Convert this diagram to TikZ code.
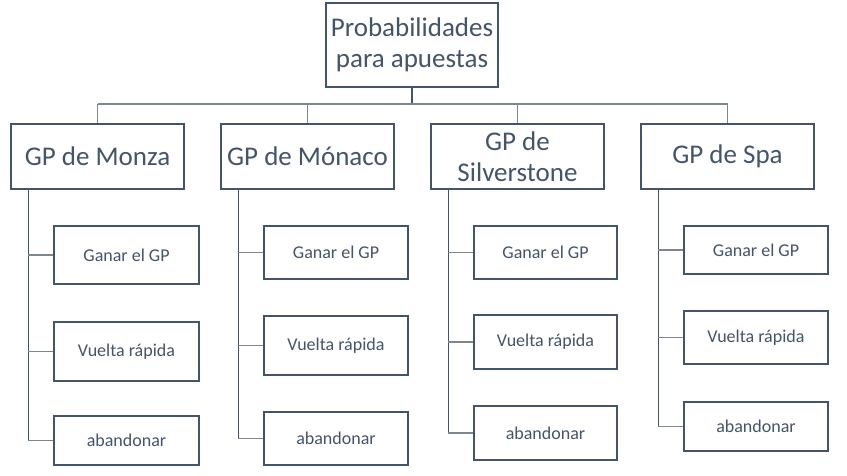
\documentclass[tikz,border=0pt]{standalone}
\usepackage{fontspec}
\setmainfont{Carlito}
\definecolor{ink}{HTML}{44546A}
\definecolor{branch}{HTML}{7D8794}
\tikzset{
  x=1pt, y=-1pt,
  box/.style={draw=ink, line width=1.3pt, fill=white, text=ink, inner sep=0pt, align=center},
  bigbox/.style={box, minimum width=173pt, minimum height=65pt, font=\fontsize{27}{31}\selectfont},
  rootbox/.style={box, minimum width=172pt, minimum height=84pt, font=\fontsize{27}{31}\selectfont},
  leafbox/.style={box, font=\fontsize{18}{22}\selectfont},
  vline/.style={draw=ink, line width=1.3pt},
  hline/.style={draw=branch, line width=1.3pt},
}
\begin{document}
\begin{tikzpicture}
\useasboundingbox[fill=white] (0,0) rectangle (847,476);

% root
\node[rootbox] (root) at (412,45) {Probabilidades\\para apuestas};

% level 1
\node[bigbox] (mz) at (97.5,156.5) {GP de Monza};
\node[bigbox] (mo) at (307.5,156.5) {GP de Mónaco};
\node[bigbox] (si) at (517.5,156.5) {GP de\\Silverstone};
\node[bigbox] (sp) at (727.5,156.5) {GP de Spa};

% leaves Monza
\node[leafbox, minimum width=145pt, minimum height=58pt] (mz1) at (126.5,255) {Ganar el GP};
\node[leafbox, minimum width=145pt, minimum height=59pt] (mz2) at (126.5,351.5) {Vuelta rápida};
\node[leafbox, minimum width=145pt, minimum height=49pt] (mz3) at (126.5,440.5) {abandonar};
% leaves Monaco
\node[leafbox, minimum width=144pt, minimum height=53pt] (mo1) at (336,252.5) {Ganar el GP};
\node[leafbox, minimum width=144pt, minimum height=59pt] (mo2) at (336,345.5) {Vuelta rápida};
\node[leafbox, minimum width=144pt, minimum height=53pt] (mo3) at (336,438.5) {abandonar};
% leaves Silverstone
\node[leafbox, minimum width=143pt, minimum height=53pt] (si1) at (545.5,252.5) {Ganar el GP};
\node[leafbox, minimum width=143pt, minimum height=54pt] (si2) at (545.5,342) {Vuelta rápida};
\node[leafbox, minimum width=143pt, minimum height=54pt] (si3) at (545.5,433) {abandonar};
% leaves Spa
\node[leafbox, minimum width=144pt, minimum height=48pt] (sp1) at (756,250) {Ganar el GP};
\node[leafbox, minimum width=144pt, minimum height=53pt] (sp2) at (756,337.5) {Vuelta rápida};
\node[leafbox, minimum width=144pt, minimum height=49pt] (sp3) at (756,426.5) {abandonar};

% bus
\coordinate (busL) at (98,104);
\coordinate (busR) at (727.5,104);
\draw[vline] (root.south) -- (root.south |- busL);
\draw[hline] (busL) -- (busR);
\foreach \n in {mz,mo,si,sp}{
  \draw[hline] (\n.north |- busL) -- (\n.north);
}

% group verticals
\foreach \n in {mz,mo,si,sp}{
  \coordinate (\n v) at ([xshift=18pt]\n.south west);
  \draw[vline] (\n v) -- (\n v |- \n3.west);
  \foreach \k in {1,2,3}{
    \draw[hline] (\n v |- \n\k.west) -- (\n\k.west);
  }
}
\end{tikzpicture}
\end{document}
